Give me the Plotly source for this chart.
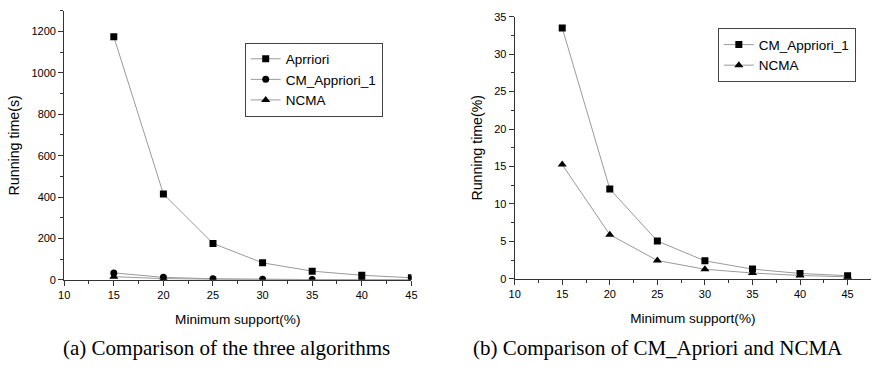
import plotly.graph_objects as go

support = [15, 20, 25, 30, 35, 40, 45]
apriori = [1175, 415, 176, 82, 42, 22, 10]
cm_apriori = [33.5, 12.0, 5.05, 2.4, 1.3, 0.72, 0.42]
ncma = [15.25, 5.9, 2.45, 1.28, 0.78, 0.45, 0.27]

W, H = 878, 370
line_col = "#9a9a9a"
mk_col = "black"
font_fam = "Liberation Sans, Arial, sans-serif"

fig = go.Figure()

def add(x, y, name, symbol, size, xa, ya, legend):
    fig.add_trace(go.Scatter(
        x=x, y=y, name=name, mode="lines+markers",
        line=dict(color=line_col, width=1),
        marker=dict(symbol=symbol, size=size, color=mk_col),
        xaxis=xa, yaxis=ya, legend=legend))

add(support, apriori, "Aprriori", "square", 7, "x", "y", "legend")
add(support, cm_apriori, "CM_Appriori_1", "circle", 7, "x", "y", "legend")
add(support, ncma, "NCMA", "triangle-up", 8, "x", "y", "legend")
add(support, cm_apriori, "CM_Appriori_1", "square", 7, "x2", "y2", "legend2")
add(support, ncma, "NCMA", "triangle-up", 8, "x2", "y2", "legend2")

axis_common = dict(
    showline=True, linecolor="#333", linewidth=1, showgrid=False, zeroline=False,
    ticks="outside", ticklen=5, tickcolor="#333",
    tickfont=dict(family=font_fam, size=11, color="black"),
)
xt_font = dict(family=font_fam, size=13.6, color="black")
yt_font = dict(family=font_fam, size=14.2, color="black")
minor_x = dict(dtick=2.5, ticks="outside", ticklen=3, tickcolor="#333")

fig.update_layout(
    width=W, height=H, margin=dict(l=0, r=0, t=0, b=0),
    paper_bgcolor="white", plot_bgcolor="white",
    xaxis=dict(domain=[59/W, 411/W], range=[10, 45], dtick=5, anchor="y", minor=minor_x,
               title=dict(text="Minimum support(%)", standoff=14, font=xt_font), **axis_common),
    yaxis=dict(domain=[1-283/H, 1-5/H], range=[0, 1300], tickvals=[0, 200, 400, 600, 800, 1000, 1200], anchor="x",
               minor=dict(dtick=100, ticks="outside", ticklen=3, tickcolor="#333"),
               title=dict(text="Running time(s)", standoff=8, font=yt_font), **axis_common),
    xaxis2=dict(domain=[515.7/W, 877/W], range=[10, 47.46], tickvals=[10, 15, 20, 25, 30, 35, 40, 45], anchor="y2",
                minor=minor_x,
                title=dict(text="Minimum support(%)", standoff=14, font=xt_font), **axis_common),
    yaxis2=dict(domain=[1-282/H, 1-11/H], range=[0, 35], dtick=5, anchor="x2",
                minor=dict(dtick=2.5, ticks="outside", ticklen=3, tickcolor="#333"),
                title=dict(text="Running time(%)", standoff=8, font=yt_font), **axis_common),
    legend=dict(x=242/W, y=1-76/H, xanchor="left", yanchor="middle",
                bordercolor="#444", borderwidth=1, bgcolor="white",
                font=dict(family=font_fam, size=13.5, color="black"),
                itemwidth=30, tracegroupgap=0),
    legend2=dict(x=721.7/W, y=1-51/H, xanchor="left", yanchor="middle",
                 bordercolor="#444", borderwidth=1, bgcolor="white",
                 font=dict(family=font_fam, size=13.5, color="black"),
                 itemwidth=30, tracegroupgap=0),
    showlegend=True,
)

cap_font = dict(family="Liberation Serif, Times New Roman, serif", size=21, color="black")
fig.add_annotation(text="(a) Comparison of the three algorithms", x=224/W, y=1-353/H,
                   xref="paper", yref="paper", showarrow=False, font=cap_font,
                   xanchor="center", yanchor="middle")
fig.add_annotation(text="(b) Comparison of CM_Apriori and NCMA", x=661/W, y=1-353/H,
                   xref="paper", yref="paper", showarrow=False, font=cap_font,
                   xanchor="center", yanchor="middle")

fig.write_html("out.html")
